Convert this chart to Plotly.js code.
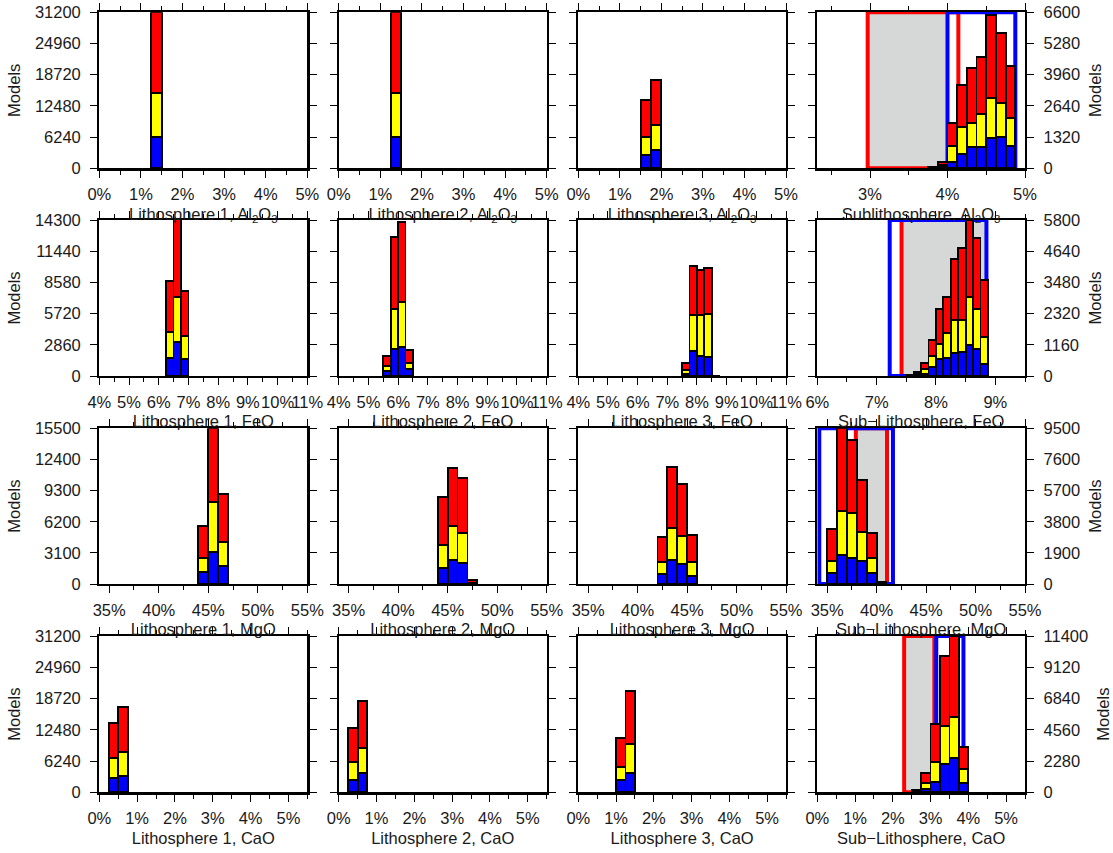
<!DOCTYPE html>
<html><head><meta charset="utf-8">
<script src="https://cdn.plot.ly/plotly-3.0.1.min.js"></script>
<style>html,body{margin:0;padding:0;background:#fff}#chart{width:1113px;height:853px}</style>
</head><body><div id="chart"></div>
<script>
// ---------- titles ----------
const xTitles = [
  'Lithosphere 1, Al<sub>2</sub>O<sub>3</sub>','Lithosphere 2, Al<sub>2</sub>O<sub>3</sub>','Lithosphere 3, Al<sub>2</sub>O<sub>3</sub>','Sublithosphere, Al<sub>2</sub>O<sub>3</sub>',
  'Lithosphere 1, FeO','Lithosphere 2, FeO','Lithosphere 3, FeO','Sub\u2212Lithosphere, FeO',
  'Lithosphere 1, MgO','Lithosphere 2, MgO','Lithosphere 3, MgO','Sub\u2212Lithosphere, MgO',
  'Lithosphere 1, CaO','Lithosphere 2, CaO','Lithosphere 3, CaO','Sub\u2212Lithosphere, CaO'
];
const yTitle = 'Models';

// ---------- axis extents (values) ----------
const leftMax  = [31200, 14300, 15500, 31200];   // shared by columns 1-3 of each row
const rightMax = [6600, 5800, 9500, 11400];      // sub-lithosphere column
const xRangeLith = [[0,5],[4,11],[34,55],[0,5.5]];
const xRangeSub  = [[2.32,5],[6,9.5],[34,55],[0,5.5]];
const xMajor = [1,1,5,1];
const xMinor = [0.5,0.5,2.5,0.5];
const binWidthLith = [0.25,0.25,1,0.25];
const binWidthSub  = [0.125,0.125,1,0.25];

// ---------- Al2O3 ----------
const al_l1_bins=[1.25], al_l1_blue=[6200], al_l1_yellow=[8860], al_l1_red=[16140];
const al_l2_bins=[1.25], al_l2_blue=[6200], al_l2_yellow=[8800], al_l2_red=[16200];
const al_l3_bins=[1.5,1.75], al_l3_blue=[2660,3660], al_l3_yellow=[3660,5000], al_l3_red=[7340,9000];
const al_s_bins=[3.75,3.875,4.0,4.125,4.25,4.375,4.5,4.625,4.75];
const al_s_blue=[10,60,282,606,917,888,1297,1340,960];
const al_s_yellow=[10,70,678,1129,1015,1397,1693,1410,1155];
const al_s_red=[20,150,945,1790,2298,2440,3497,2960,2215];

// ---------- FeO ----------
const fe_l1_bins=[6.25,6.5,6.75], fe_l1_blue=[1620,3085,1530], fe_l1_yellow=[2445,4185,2135], fe_l1_red=[4645,7100,4125];
const fe_l2_bins=[5.5,5.75,6.0,6.25], fe_l2_blue=[460,2475,2630,610], fe_l2_yellow=[455,3635,4125,610], fe_l2_red=[920,6660,7335,1165];
const fe_l3_bins=[7.5,7.75,8.0,8.25,8.5], fe_l3_blue=[185,2290,1835,1770,15], fe_l3_yellow=[365,3300,3755,3915,10], fe_l3_red=[670,4520,4125,4185,25];
const fe_s_bins=[7.5,7.625,7.75,7.875,8.0,8.125,8.25,8.375,8.5,8.625,8.75];
const fe_s_blue=[10,50,75,320,620,680,843,905,1150,990,435];
const fe_s_yellow=[10,40,175,425,560,905,1237,1175,1775,1490,1005];
const fe_s_red=[20,70,245,595,1310,1365,2260,2690,2875,2660,2130];

// ---------- MgO ----------
const mg_l1_bins=[44,45,46], mg_l1_blue=[1165,3155,1825], mg_l1_yellow=[1390,4975,2390], mg_l1_red=[3220,7400,4775];
const mg_l2_bins=[44,45,46,47], mg_l2_blue=[1560,2390,2120,60], mg_l2_yellow=[2320,3385,2925,90], mg_l2_red=[4810,5745,5475,280];
const mg_l3_bins=[42,43,44,45], mg_l3_blue=[965,2390,1990,795], mg_l3_yellow=[1255,3155,2820,1425], mg_l3_red=[2430,6075,5115,2660];
const mg_s_bins=[35,36,37,38,39,40], mg_s_blue=[690,1770,1605,1420,690,30], mg_s_yellow=[730,2685,2705,1770,875,30], mg_s_red=[1915,5045,4480,3155,1525,80];

// ---------- CaO ----------
const ca_l1_bins=[0.25,0.5], ca_l1_blue=[2795,3325], ca_l1_yellow=[3990,4660], ca_l1_red=[7120,9110];
const ca_l2_bins=[0.25,0.5], ca_l2_blue=[2460,3790], ca_l2_yellow=[3660,4990], ca_l2_red=[6650,9450];
const ca_l3_bins=[1.0,1.25], ca_l3_blue=[2460,3790], ca_l3_yellow=[2660,5855], ca_l3_red=[5655,10645];
const ca_s_bins=[2.5,2.75,3.0,3.25,3.5,3.75], ca_s_blue=[40,220,778,2066,2480,705], ca_s_yellow=[40,485,1458,2771,3038,972], ca_s_red=[90,730,2724,5105,5882,1653];

// ---------- sub-lithosphere reference ranges (x, in %) ----------
const grayRange = [[2.97,4.0],[7.45,8.85],[38.1,40.9],[2.33,3.1]];
const redRange  = [[2.97,4.14],[7.42,7.42],[37.9,41.05],[2.3,3.1]];
const blueRange = [[4.0,4.875],[7.22,8.85],[34.2,41.65],[3.15,3.87]];

const panels = [
  [al_l1_bins,al_l1_blue,al_l1_yellow,al_l1_red],[al_l2_bins,al_l2_blue,al_l2_yellow,al_l2_red],[al_l3_bins,al_l3_blue,al_l3_yellow,al_l3_red],[al_s_bins,al_s_blue,al_s_yellow,al_s_red],
  [fe_l1_bins,fe_l1_blue,fe_l1_yellow,fe_l1_red],[fe_l2_bins,fe_l2_blue,fe_l2_yellow,fe_l2_red],[fe_l3_bins,fe_l3_blue,fe_l3_yellow,fe_l3_red],[fe_s_bins,fe_s_blue,fe_s_yellow,fe_s_red],
  [mg_l1_bins,mg_l1_blue,mg_l1_yellow,mg_l1_red],[mg_l2_bins,mg_l2_blue,mg_l2_yellow,mg_l2_red],[mg_l3_bins,mg_l3_blue,mg_l3_yellow,mg_l3_red],[mg_s_bins,mg_s_blue,mg_s_yellow,mg_s_red],
  [ca_l1_bins,ca_l1_blue,ca_l1_yellow,ca_l1_red],[ca_l2_bins,ca_l2_blue,ca_l2_yellow,ca_l2_red],[ca_l3_bins,ca_l3_blue,ca_l3_yellow,ca_l3_red],[ca_s_bins,ca_s_blue,ca_s_yellow,ca_s_red]
];

// ---------- layout geometry (px) ----------
const W = 1113, H = 853;
const colPx = [[99.3,307.3],[338.7,546.7],[578.3,786],[817.3,1025]];
const rowPx = [[12.3,168.3],[220,376],[428.3,584],[636,792.3]];
const FONT = {family:'Liberation Sans, Arial, Helvetica, sans-serif', size:16.5, color:'#1a1a1a'};
const COLORS = {blue:'#0000ff', yellow:'#ffff00', red:'#ff0000', gray:'#d6d8d8'};

const traces = [];
const layout = {
  width:W, height:H, margin:{l:0,r:0,t:0,b:0}, paper_bgcolor:'#fff', plot_bgcolor:'#fff',
  barmode:'stack', bargap:0, showlegend:false, font:FONT, shapes:[]
};

for (let r=0;r<4;r++){
  for (let c=0;c<4;c++){
    const i = r*4+c, n = i+1;
    const xa = n===1?'x':'x'+n, ya = n===1?'y':'y'+n;
    const isSub = c===3;
    const [bins, b, y, rd] = panels[i];
    const w = isSub ? binWidthSub[r] : binWidthLith[r];
    const centers = bins.map(v=>v+w/2);
    [[b,COLORS.blue],[y,COLORS.yellow],[rd,COLORS.red]].forEach(([vals,col])=>{
      traces.push({type:'bar', x:centers, y:vals, width:w, xaxis:xa, yaxis:ya,
        marker:{color:col, line:{color:'#000', width:1.8}}, hoverinfo:'x+y'});
    });
    const xr = isSub ? xRangeSub[r] : xRangeLith[r];
    const ymax = isSub ? rightMax[r] : leftMax[r];
    layout['xaxis'+(n===1?'':n)] = {
      domain:[colPx[c][0]/W, colPx[c][1]/W], anchor:ya, range:xr,
      tick0:0, dtick:xMajor[r], ticksuffix:'%', tickangle:0,
      ticks:'outside', ticklen:7, tickwidth:1, tickcolor:'#000', ticklabelstandoff:3,
      minor:{dtick:xMinor[r], tick0:0, ticks:'outside', ticklen:4, tickwidth:1, tickcolor:'#000', showgrid:false},
      showline:true, linewidth:2.2, linecolor:'#000', mirror:'ticks',
      showgrid:false, zeroline:false, fixedrange:true,
      title:{text:xTitles[i], font:FONT, standoff:6}
    };
    const yax = {
      domain:[1-rowPx[r][1]/H, 1-rowPx[r][0]/H], anchor:xa, range:[0,ymax],
      tick0:0, dtick:ymax/5, tickformat:'d',
      ticks:'outside', ticklen:7, tickwidth:1, tickcolor:'#000', ticklabelstandoff:6,
      showline:true, linewidth:2.2, linecolor:'#000', mirror:'ticks',
      showgrid:false, zeroline:false, fixedrange:true,
      showticklabels:(c===0||c===3), side:(c===3?'right':'left')
    };
    if (c===0||c===3) yax.title = {text:yTitle, font:FONT, standoff:10};
    layout['yaxis'+(n===1?'':n)] = yax;

    if (isSub){
      const yd = ya+' domain';
      layout.shapes.push({type:'rect', layer:'below', xref:xa, yref:yd, x0:grayRange[r][0], x1:grayRange[r][1], y0:0, y1:1, fillcolor:COLORS.gray, line:{width:0}});
      layout.shapes.push({type:'rect', layer:'below', xref:xa, yref:yd, x0:redRange[r][0], x1:redRange[r][1], y0:0, y1:1, line:{color:COLORS.red, width:4}});
      layout.shapes.push({type:'rect', layer:'below', xref:xa, yref:yd, x0:blueRange[r][0], x1:blueRange[r][1], y0:0, y1:1, line:{color:COLORS.blue, width:4}});
    }
  }
}

Plotly.newPlot('chart', traces, layout, {displayModeBar:false, staticPlot:true});
</script></body></html>
